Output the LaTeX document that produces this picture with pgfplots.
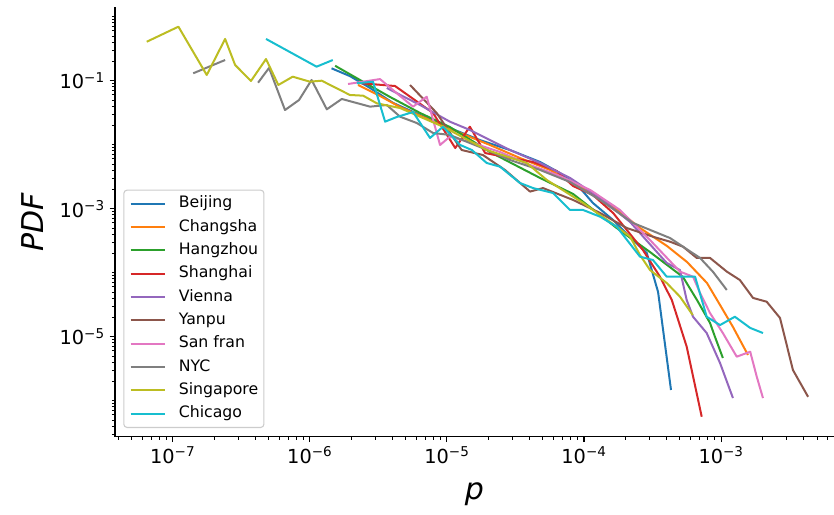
\documentclass[border=0pt]{standalone}
\usepackage{fontspec}
\setmainfont{DejaVu Sans}
\usepackage{pgfplots}
\pgfplotsset{compat=1.18}

\definecolor{cBeijing}{HTML}{1F77B4}
\definecolor{cChangsha}{HTML}{FF7F0E}
\definecolor{cHangzhou}{HTML}{2CA02C}
\definecolor{cShanghai}{HTML}{D62728}
\definecolor{cVienna}{HTML}{9467BD}
\definecolor{cYanpu}{HTML}{8C564B}
\definecolor{cSanfran}{HTML}{E377C2}
\definecolor{cNYC}{HTML}{7F7F7F}
\definecolor{cSingapore}{HTML}{BCBD22}
\definecolor{cChicago}{HTML}{17BECF}

% power-of-ten tick label set in the text font
\newcommand{\pw}[1]{10\textsuperscript{−#1}}

\begin{document}
\begin{tikzpicture}
\useasboundingbox (-86.25pt,-58pt) rectangle (539.25pt,327.5pt);
\begin{axis}[
  scale only axis, width=539.25pt, height=322pt,
  xmode=log, ymode=log,
  xmin=3.79e-8, xmax=6.66e-3, ymin=2.74e-7, ymax=1.40,
  axis x line*=bottom, axis y line*=left,
  axis line style={-, line width=0.8pt, black},
  xtick pos=left, ytick pos=left,
  tick align=outside,
  xtick={1e-7,1e-6,1e-5,1e-4,1e-3},
  xticklabels={\pw{7},\pw{6},\pw{5},\pw{4},\pw{3}},
  ytick={1e-5,1e-3,1e-1},
  yticklabels={\pw{5},\pw{3},\pw{1}},
  minor xtick={4e-8,5e-8,6e-8,7e-8,8e-8,9e-8,
    2e-7,3e-7,4e-7,5e-7,6e-7,7e-7,8e-7,9e-7,
    2e-6,3e-6,4e-6,5e-6,6e-6,7e-6,8e-6,9e-6,
    2e-5,3e-5,4e-5,5e-5,6e-5,7e-5,8e-5,9e-5,
    2e-4,3e-4,4e-4,5e-4,6e-4,7e-4,8e-4,9e-4,
    2e-3,3e-3,4e-3,5e-3,6e-3},
  minor ytick={3e-7,4e-7,5e-7,6e-7,7e-7,8e-7,9e-7,
    1e-6,2e-6,3e-6,4e-6,5e-6,6e-6,7e-6,8e-6,9e-6,
    2e-5,3e-5,4e-5,5e-5,6e-5,7e-5,8e-5,9e-5,
    1e-4,2e-4,3e-4,4e-4,5e-4,6e-4,7e-4,8e-4,9e-4,
    2e-3,3e-3,4e-3,5e-3,6e-3,7e-3,8e-3,9e-3,
    1e-2,2e-2,3e-2,4e-2,5e-2,6e-2,7e-2,8e-2,9e-2,
    2e-1,3e-1,4e-1,5e-1,6e-1,7e-1,8e-1,9e-1,1},
  major tick length=4.1pt, minor tick length=2.4pt,
  every tick/.append style={black, line width=0.8pt},
  every minor tick/.append style={black, line width=0.6pt},
  tick label style={font=\fontsize{14.5}{17}\selectfont},
  xlabel={p}, ylabel={PDF},
  label style={font=\fontsize{22.5}{26}\selectfont\itshape},
  xlabel style={at={([yshift=-43pt]axis description cs:0.5,0)}, anchor=center},
  ylabel style={at={([xshift=-61.5pt]axis description cs:0,0.5)}, anchor=center},
  every axis plot/.append style={line width=1.5pt, line join=round},
  legend cell align=left,
  legend image code/.code={\draw[#1, line width=1.5pt] (0pt,0pt) -- (26pt,0pt);},
  legend style={at={([xshift=6.2pt,yshift=6.5pt]rel axis cs:0,0)}, anchor=south west,
    draw=black!20, line width=0.8pt, rounded corners=2.5pt, fill=white,
    font=\fontsize{11.8}{14}\selectfont,
    inner xsep=4.3pt, inner ysep=1.5pt, row sep=0pt,
    nodes={inner sep=0pt, text height=8.6pt, text depth=2.5pt, minimum height=17.5pt},
    /tikz/every odd column/.append style={column sep=9.5pt}},
]

\addplot[cBeijing] coordinates {
 (1.44e-6,0.156) (1.96e-6,0.118) (2.75e-6,0.0769) (4.05e-6,0.0449) (6.37e-6,0.0291)
 (1.05e-5,0.0182) (1.74e-5,0.0118) (2.88e-5,8.26e-3) (4.78e-5,5.37e-3) (6.68e-5,3.61e-3)
 (9.35e-5,2.10e-3) (1.16e-4,1.23e-3) (1.63e-4,6.65e-4) (2.28e-4,3.24e-4) (2.87e-4,2.03e-4)
 (3.47e-4,4.99e-5) (4.31e-4,1.47e-6)};
\addlegendentry{Beijing}

\addplot[cChangsha] coordinates {
 (2.25e-6,0.0857) (3.25e-6,0.0577) (4.55e-6,0.0388) (7.53e-6,0.0243) (1.25e-5,0.01524)
 (2.06e-5,9.89e-3) (3.41e-5,6.19e-3) (5.65e-5,4.03e-3) (9.35e-5,2.18e-3) (1.31e-4,1.47e-3)
 (1.83e-4,8.87e-4) (2.56e-4,4.99e-4) (4.03e-4,2.61e-4) (5.64e-4,1.47e-4) (7.89e-4,6.90e-5)
 (9.82e-4,3.13e-5) (1.22e-3,1.42e-5) (1.57e-3,5.18e-6)};
\addlegendentry{Changsha}

\addplot[cHangzhou] coordinates {
 (1.53e-6,0.171) (2.32e-6,0.1026) (3.85e-6,0.0556) (6.37e-6,0.0313) (1.05e-5,0.0189)
 (2.06e-5,7.69e-3) (4.78e-5,3.02e-3) (8.32e-5,1.70e-3) (1.73e-4,4.99e-4) (3.03e-4,2.10e-4)
 (5.27e-4,8.57e-5) (6.67e-4,3.74e-5) (8.30e-4,1.64e-5) (9.03e-4,9.89e-6) (1.03e-3,4.65e-6)};
\addlegendentry{Hangzhou}

\addplot[cShanghai] coordinates {
 (2.25e-6,0.092) (4.18e-6,0.0826) (7.92e-6,0.0313) (1.15e-5,8.87e-3) (1.47e-5,0.0191)
 (1.90e-5,7.41e-3) (2.65e-5,6.43e-3) (4.25e-5,5.37e-3) (6.32e-5,3.88e-3) (8.32e-5,2.26e-3)
 (1.16e-4,1.64e-3) (1.63e-4,8.57e-4) (2.69e-4,2.26e-4) (3.58e-4,8.66e-5) (4.37e-4,3.74e-5)
 (5.61e-4,6.98e-6) (7.22e-4,5.62e-7)};
\addlegendentry{Shanghai}

\addplot[cVienna] coordinates {
 (3.64e-6,0.0769) (6.37e-6,0.0417) (1.05e-5,0.0229) (1.47e-5,0.0170) (2.88e-5,8.26e-3)
 (4.78e-5,5.18e-3) (7.91e-5,3.02e-3) (1.31e-4,1.47e-3) (2.17e-4,6.19e-4) (3.30e-4,2.26e-4)
 (4.01e-4,1.42e-4) (5.01e-4,1.10e-4) (5.61e-4,3.74e-5) (6.24e-4,2.05e-5) (7.85e-4,1.14e-5)
 (9.82e-4,3.88e-6) (1.22e-3,1.10e-6)};
\addlegendentry{Vienna}

\addplot[cYanpu] coordinates {
 (5.38e-6,0.0857) (8.42e-6,0.0313) (1.28e-5,8.26e-3) (1.83e-5,6.90e-3) (2.65e-5,4.03e-3)
 (4.04e-5,1.85e-3) (5.02e-5,2.10e-3) (8.32e-5,1.37e-3) (1.31e-4,8.57e-4) (2.05e-4,4.99e-4)
 (3.18e-4,3.65e-4) (4.24e-4,3.05e-4) (5.27e-4,2.55e-4) (6.64e-4,1.70e-4) (8.30e-4,1.70e-4)
 (1.10e-3,1.04e-4) (1.37e-3,7.69e-5) (1.71e-3,4.03e-5) (2.15e-3,3.52e-5) (2.69e-3,1.96e-5)
 (3.34e-3,3.02e-6) (4.31e-3,1.15e-6)};
\addlegendentry{Yanpu}

\addplot[cSanfran] coordinates {
 (1.90e-6,0.0888) (3.25e-6,0.106) (4.55e-6,0.0577) (5.66e-6,0.0393) (7.12e-6,0.0562)
 (8.91e-6,9.89e-3) (1.05e-5,0.01334) (1.47e-5,0.01101) (2.44e-5,7.69e-3) (4.04e-5,4.82e-3)
 (6.68e-5,3.24e-3) (1.11e-4,1.96e-3) (1.83e-4,9.55e-4) (3.03e-4,3.24e-4) (5.01e-4,1.04e-4)
 (6.24e-4,8.66e-5) (7.02e-4,4.82e-5) (8.30e-4,2.34e-5) (1.03e-3,1.14e-5) (1.30e-3,4.87e-6)
 (1.63e-3,5.83e-6) (1.82e-3,2.37e-6) (2.02e-3,1.10e-6)};
\addlegendentry{San fran}

\addplot[cNYC, forget plot] coordinates {(1.41e-7,0.1305) (2.41e-7,0.2104)};
\addplot[cNYC] coordinates {
 (4.19e-7,0.093) (5.04e-7,0.158) (6.59e-7,0.0348) (8.34e-7,0.0499) (1.03e-6,0.1026)
 (1.33e-6,0.0357) (1.71e-6,0.0518) (2.75e-6,0.0393) (3.64e-6,0.0417) (4.55e-6,0.0274)
 (6.03e-6,0.0218) (7.92e-6,0.01524) (1.05e-5,0.01419) (1.74e-5,9.20e-3) (2.88e-5,5.77e-3)
 (4.78e-5,4.03e-3) (7.91e-5,2.61e-3) (1.31e-4,1.37e-3) (2.28e-4,5.98e-4) (4.24e-4,3.48e-4)
 (5.27e-4,2.55e-4) (7.02e-4,1.70e-4) (8.73e-4,1.03e-4) (1.10e-3,5.37e-5)};
\addlegendentry{NYC}

\addplot[cSingapore] coordinates {
 (6.46e-8,0.406) (1.10e-7,0.698) (1.77e-7,0.1227) (2.41e-7,0.449) (2.85e-7,0.176)
 (3.72e-7,0.099) (4.79e-7,0.218) (5.89e-7,0.0857) (7.50e-7,0.1155) (1.00e-6,0.0965)
 (1.22e-6,0.100) (1.96e-6,0.0598) (2.45e-6,0.0583) (3.08e-6,0.0443) (4.55e-6,0.0374)
 (9.37e-6,0.0191) (1.95e-5,8.26e-3) (3.82e-5,5.18e-3) (5.35e-5,2.81e-3) (9.84e-5,1.23e-3)
 (1.73e-4,5.24e-4) (2.17e-4,3.65e-4) (2.56e-4,1.89e-4) (3.03e-4,1.10e-4) (4.01e-4,6.90e-5)
 (5.01e-4,4.22e-5) (6.21e-4,2.18e-5)};
\addlegendentry{Singapore}

\addplot[cChicago, forget plot] coordinates {(4.79e-7,0.449) (1.12e-6,0.1655) (1.47e-6,0.2104)};
\addplot[cChicago] coordinates {
 (2.20e-6,0.091) (2.89e-6,0.0965) (3.54e-6,0.0229) (4.31e-6,0.0271) (5.66e-6,0.0324)
 (7.53e-6,0.01274) (9.37e-6,0.0191) (1.25e-5,9.89e-3) (1.52e-5,8.26e-3) (1.95e-5,5.18e-3)
 (2.44e-5,4.53e-3) (3.41e-5,2.52e-3) (4.25e-5,2.10e-3) (5.94e-5,1.76e-3) (7.91e-5,9.55e-4)
 (9.84e-5,9.55e-4) (1.31e-4,7.50e-4) (1.73e-4,5.24e-4) (2.56e-4,1.78e-4) (3.18e-4,1.58e-4)
 (4.01e-4,8.66e-5) (6.46e-4,8.66e-5) (7.85e-4,2.05e-5) (9.82e-4,1.52e-5) (1.26e-3,2.05e-5)
 (1.63e-3,1.37e-5) (2.02e-3,1.14e-5)};
\addlegendentry{Chicago}

\end{axis}
\end{tikzpicture}
\end{document}
